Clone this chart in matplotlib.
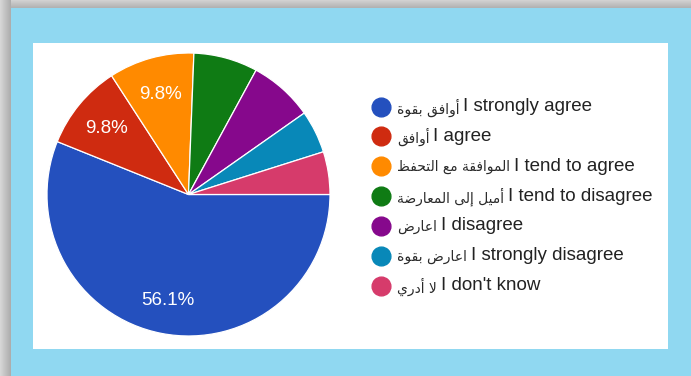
import numpy as np
import matplotlib
matplotlib.use("Agg")
import matplotlib.pyplot as plt

# Survey answers (counts of respondents)
arabic_labels = ["أوافق بقوة", "أوافق", "الموافقة مع التحفظ", "أميل إلى المعارضة",
                 "اعارض", "اعارض بقوة", "لا أدري"]
english_labels = ["I strongly agree", "I agree", "I tend to agree", "I tend to disagree",
                  "I disagree", "I strongly disagree", "I don't know"]
counts = [23, 4, 4, 3, 3, 2, 2]
colors = ["#2450BE", "#CF2B10", "#FF8A00", "#0F7B14", "#86088C", "#0888B8", "#D63B6B"]

W, H, DPI = 691, 376, 100

# ---- minimal Arabic shaping (presentation forms, visual order) ----
RIGHT_JOIN = {'ا': 0xFE8D, 'أ': 0xFE83, 'إ': 0xFE87, 'ة': 0xFE93,
              'د': 0xFEA9, 'ر': 0xFEAD, 'و': 0xFEED, 'ى': 0xFEEF}
DUAL_JOIN = {'ب': 0xFE8F, 'ت': 0xFE95, 'ح': 0xFEA1, 'ض': 0xFEBD, 'ظ': 0xFEC5,
             'ع': 0xFEC9, 'ف': 0xFED1, 'ق': 0xFED5, 'ل': 0xFEDD, 'م': 0xFEE1,
             'ه': 0xFEE9, 'ي': 0xFEF1}
LAM_ALEF = {'ا': 0xFEFB, 'أ': 0xFEF7, 'إ': 0xFEF9}


def shape_arabic(text):
    tokens = []
    i = 0
    while i < len(text):
        c = text[i]
        if c == 'ل' and i + 1 < len(text) and text[i + 1] in LAM_ALEF:
            tokens.append(('LA', text[i + 1]))
            i += 2
        else:
            tokens.append(('C', c))
            i += 1

    def kind(tok):
        t, c = tok
        if t == 'LA':
            return 'R'
        if c in DUAL_JOIN:
            return 'D'
        if c in RIGHT_JOIN:
            return 'R'
        return None

    out = []
    for k, tok in enumerate(tokens):
        kd = kind(tok)
        prev_k = kind(tokens[k - 1]) if k > 0 else None
        next_k = kind(tokens[k + 1]) if k + 1 < len(tokens) else None
        jp = prev_k == 'D' and kd is not None
        jn = kd == 'D' and next_k is not None
        t, c = tok
        if t == 'LA':
            out.append(chr(LAM_ALEF[c] + (1 if jp else 0)))
        elif kd == 'D':
            base = DUAL_JOIN[c]
            off = 3 if (jp and jn) else 1 if jp else 2 if jn else 0
            out.append(chr(base + off))
        elif kd == 'R':
            out.append(chr(RIGHT_JOIN[c] + (1 if jp else 0)))
        else:
            out.append(c)
    return ''.join(reversed(out))


fig = plt.figure(figsize=(W / DPI, H / DPI), dpi=DPI)

# ---- backdrop: light-blue frame, grey drop shadow, white card ----
bg = fig.add_axes([0, 0, 1, 1])
bg.set_xlim(0, W)
bg.set_ylim(H, 0)
bg.axis('off')
img = np.ones((H, W, 3)) * np.array([0x90, 0xD8, 0xF1]) / 255.0
left_w, top_h = 11, 8
for x in range(left_w):
    img[:, x, :] = 0.84 - 0.16 * (x / (left_w - 1))
for y in range(top_h):
    img[y, left_w:, :] = 0.82 - 0.12 * (y / (top_h - 1))
img[43:349, 33:668, :] = 1.0
bg.imshow(img, extent=(0, W, H, 0), zorder=0, interpolation='bilinear')

# ---- pie ----
cx, cy, r = 188.5, 194.5, 141.5
pax = fig.add_axes([(cx - r) / W, (H - cy - r) / H, 2 * r / W, 2 * r / H])


def pct_label(p):
    return f"{p:.1f}%" if p > 9 else ""


wedges, _, autotexts = pax.pie(
    counts, colors=colors, startangle=0, counterclock=False,
    autopct=pct_label, pctdistance=0.75,
    wedgeprops=dict(edgecolor='white', linewidth=0.9),
    textprops=dict(color='white', fontsize=13.5, family=['Liberation Sans', 'DejaVu Sans']))
for t in autotexts:
    t.set_va('center_baseline')
pax.set_xlim(-1, 1)
pax.set_ylim(-1, 1)

# ---- legend ----
row_y0, row_dy = 106.5, 29.85
marker_x, text_x = 381.5, 397
fig.canvas.draw()
renderer = fig.canvas.get_renderer()
for i, (ar, en, col) in enumerate(zip(arabic_labels, english_labels, colors)):
    y = row_y0 + i * row_dy
    bg.plot(marker_x, y, 'o', ms=13.5, color=col, mec=col, zorder=2)
    t_ar = bg.text(text_x, y + 1, shape_arabic(ar), fontsize=10, color='#2a2a2a',
                   va='center', ha='left', family=['DejaVu Sans'], zorder=2)
    ext = t_ar.get_window_extent(renderer=renderer)
    bg.text(ext.x1 + 4, y, en, fontsize=13.5, color='#222222', va='center', ha='left',
            family=['Liberation Sans', 'DejaVu Sans'], zorder=2)

fig.savefig("out.png", dpi=DPI)
